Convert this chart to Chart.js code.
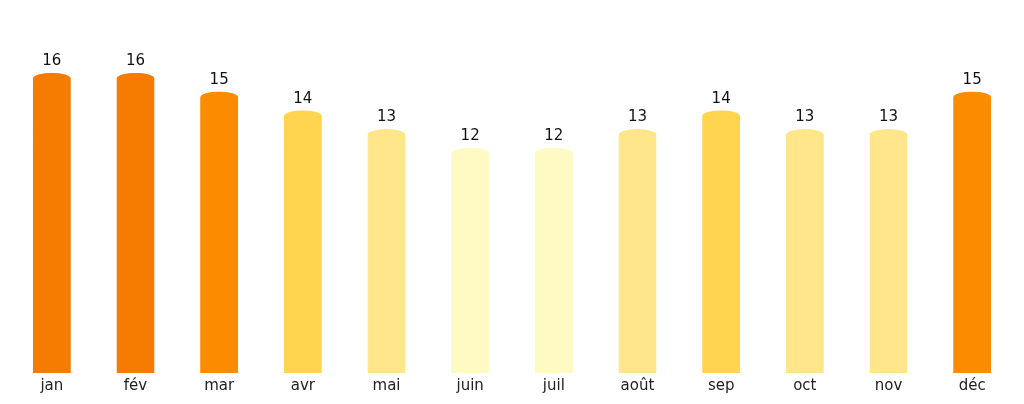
<!DOCTYPE html>
<html>
<head>
<meta charset="utf-8">
<script src="https://cdn.jsdelivr.net/npm/chart.js@4"></script>
<style>
  html, body { margin: 0; padding: 0; background: #fff; }
  #wrap { width: 1024px; height: 404px; position: relative; }
</style>
</head>
<body>
<div id="wrap"><canvas id="chart"></canvas></div>
<script>
const months = ["jan", "fév", "mar", "avr", "mai", "juin", "juil", "août", "sep", "oct", "nov", "déc"];
const temps = [16, 16, 15, 14, 13, 12, 12, 13, 14, 13, 13, 15];

// colour picked from the value, warmer for higher temperatures
function colorFor(v) {
    if (v >= 16) return "#F57C00";
    if (v >= 15) return "#FB8C00";
    if (v >= 14) return "#FFD54F";
    if (v >= 13) return "#FFE68A";
    return "#FFF9C4";
}

const CAP = 6;

// clip each bar to an elliptical top
const capClip = {
    id: "capClip",
    beforeDatasetDraw(chart, args) {
        const ctx = chart.ctx;
        ctx.save();
        ctx.beginPath();
        args.meta.data.forEach(bar => {
            const p = bar.getProps(["x", "y", "base", "width"], true);
            const half = p.width / 2;
            ctx.moveTo(p.x - half, p.base);
            ctx.lineTo(p.x - half, p.y + CAP);
            ctx.ellipse(p.x, p.y + CAP, half, CAP, 0, Math.PI, 0);
            ctx.lineTo(p.x + half, p.base);
            ctx.closePath();
        });
        ctx.clip();
    },
    afterDatasetDraw(chart) {
        chart.ctx.restore();
    }
};

const valueLabels = {
    id: "valueLabels",
    afterDatasetsDraw(chart) {
        const ctx = chart.ctx;
        ctx.save();
        ctx.font = "15px 'DejaVu Sans'";
        ctx.fillStyle = "#111";
        ctx.textAlign = "center";
        ctx.textBaseline = "bottom";
        chart.getDatasetMeta(0).data.forEach((bar, i) => {
            ctx.fillText(String(temps[i]), bar.x, bar.y - 4);
        });
        ctx.restore();
    }
};

new Chart(document.getElementById("chart"), {
    type: "bar",
    data: {
        labels: months,
        datasets: [{
            data: temps,
            backgroundColor: temps.map(colorFor),
            borderWidth: 0,
            barPercentage: 0.455,
            categoryPercentage: 1
        }]
    },
    options: {
        responsive: true,
        maintainAspectRatio: false,
        animation: false,
        layout: { padding: { left: 10, right: 10, top: 0, bottom: 5 } },
        plugins: { legend: { display: false }, tooltip: { enabled: false } },
        scales: {
            x: {
                grid: { display: false, drawTicks: false },
                border: { display: false },
                ticks: { color: "#222", font: { family: "DejaVu Sans", size: 15 }, padding: 4 }
            },
            y: { display: false, min: 0, max: 19.88 }
        }
    },
    plugins: [capClip, valueLabels]
});
</script>
</body>
</html>
